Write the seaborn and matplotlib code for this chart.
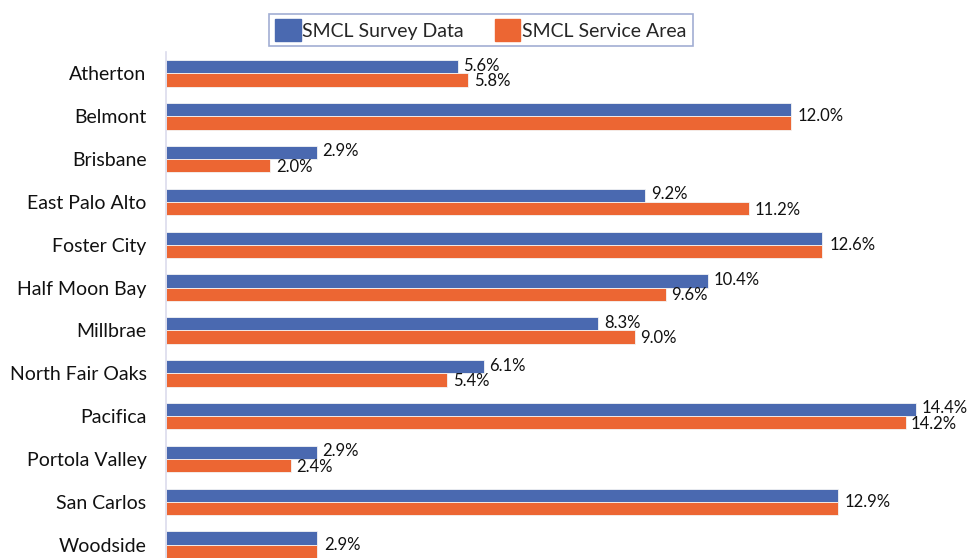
import pandas as pd
import seaborn as sns
import matplotlib.pyplot as plt

cities = ['Atherton', 'Belmont', 'Brisbane', 'East Palo Alto', 'Foster City',
          'Half Moon Bay', 'Millbrae', 'North Fair Oaks', 'Pacifica',
          'Portola Valley', 'San Carlos', 'Woodside']
survey = [5.6, 12.0, 2.9, 9.2, 12.6, 10.4, 8.3, 6.1, 14.4, 2.9, 12.9, 2.9]
service = [5.8, 12.0, 2.0, 11.2, 12.6, 9.6, 9.0, 5.4, 14.2, 2.4, 12.9, 2.9]
series = ['SMCL Survey Data', 'SMCL Service Area']
colors = ['#4A69B0', '#EC6633']


def main():
    df = pd.DataFrame({
        'city': cities * 2,
        'value': survey + service,
        'series': [series[0]] * len(cities) + [series[1]] * len(cities),
    })

    sns.set_style('white')
    plt.rcParams['font.family'] = ['Lato', 'DejaVu Sans']

    fig = plt.figure(figsize=(9.74, 5.58), dpi=100)
    ax = fig.add_axes([166 / 974, 0.0, 790 / 974, 506 / 558])

    sns.barplot(data=df, y='city', x='value', hue='series', order=cities,
                hue_order=series, palette=colors, saturation=1, orient='h',
                width=0.62, gap=0, edgecolor='#f4f4f4', linewidth=0.6, ax=ax,
                legend=False)

    ax.set_xlim(0, 790 / 52.08)
    ax.set_ylim(11.31, -0.5)
    ax.set_xlabel('')
    ax.set_ylabel('')
    ax.set_xticks([])
    ax.tick_params(axis='y', length=0, pad=14, labelsize=14, labelcolor='#111111')
    for s in ['top', 'right', 'bottom']:
        ax.spines[s].set_visible(False)
    ax.spines['left'].set_color('#dcdcec')
    ax.spines['left'].set_linewidth(1.2)

    for i, (a, b) in enumerate(zip(survey, service)):
        if a == b:
            ax.annotate(f'{a:.1f}%', (a, i), xytext=(5, 0), textcoords='offset points',
                        ha='left', va='center', fontsize=12, color='#111111')
        else:
            ax.annotate(f'{a:.1f}%', (a, i - 0.15), xytext=(4, 1), textcoords='offset points',
                        ha='left', va='center', fontsize=12, color='#111111')
            ax.annotate(f'{b:.1f}%', (b, i + 0.15), xytext=(4, -1), textcoords='offset points',
                        ha='left', va='center', fontsize=12, color='#111111')

    handles = [plt.Rectangle((0, 0), 1, 1, color=c) for c in colors]
    leg = fig.legend(handles, series, loc='upper center', bbox_to_anchor=(481 / 974, 0.993),
                     ncol=2, frameon=True, fancybox=False, fontsize=14,
                     handlelength=1.3, handleheight=1.3, handletextpad=0.1,
                     columnspacing=1.6, borderpad=0.3)
    leg.get_frame().set_edgecolor('#8a9ac8')
    leg.get_frame().set_linewidth(1.2)

    fig.savefig('out.png', dpi=100)


if __name__ == '__main__':
    main()
